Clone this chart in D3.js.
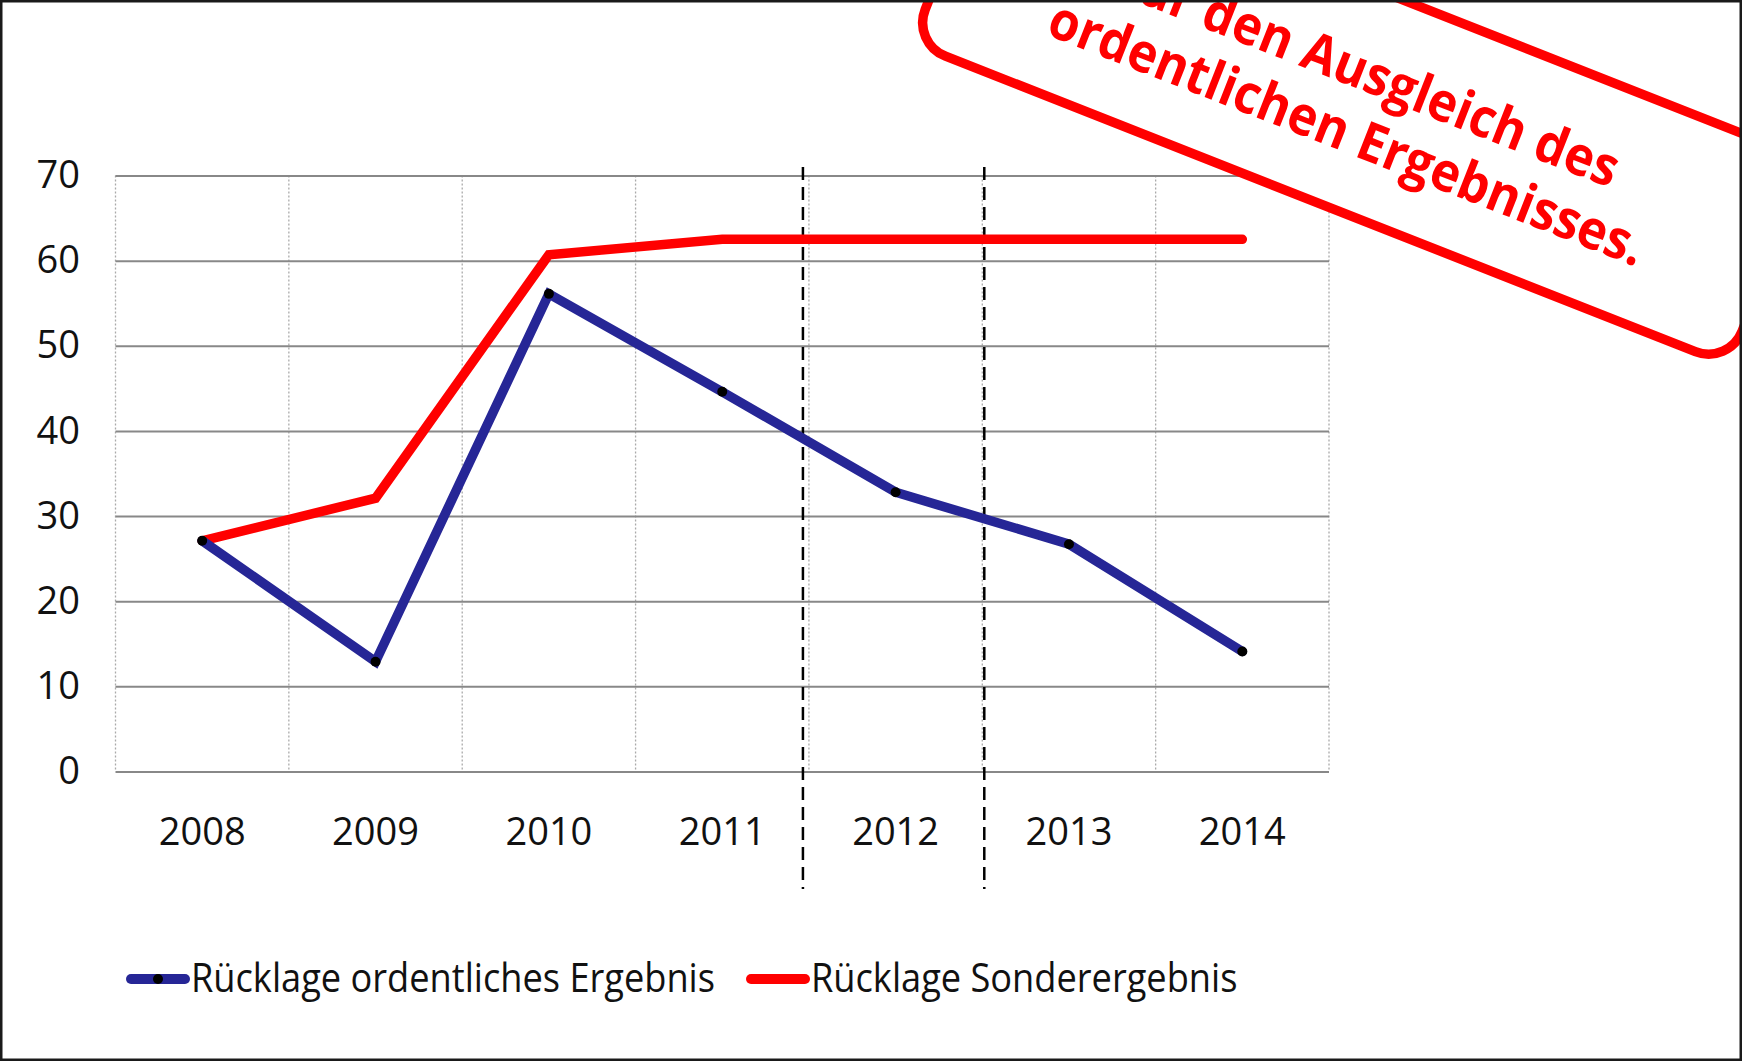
<!DOCTYPE html>
<html>
<head>
<meta charset="utf-8">
<script src="https://cdn.jsdelivr.net/npm/d3@7"></script>
<style>
  body { margin: 0; background: #fff; }
  svg { display: block; font-family: "Open Sans", "Noto Sans", sans-serif; }
</style>
</head>
<body>
<div id="chart"></div>
<script>
// data
let years = ['2008', '2009', '2010', '2011', '2012', '2013', '2014'];
let ordentlich = [27.1, 12.9, 56.1, 44.6, 32.8, 26.7, 14.1];
let sonder = [27.1, 32.1, 60.7, 62.5, 62.5, 62.5, 62.5];
let yTicks = [0, 10, 20, 30, 40, 50, 60, 70];
let splitYears = ['2012', '2013'];
let seriesNames = ['Rücklage ordentliches Ergebnis', 'Rücklage Sonderergebnis'];
let noteLines = ['für den Ausgleich des', 'ordentlichen Ergebnisses.'];

// svg size
let svgWidth = 1742,
    svgHeight = 1061;

// plot area
let plot = { left: 115.5, right: 1329, top: 175.5, bottom: 771.5 };

let svg = d3.select('#chart')
    .append('svg')
    .attr('width', svgWidth)
    .attr('height', svgHeight);

// scales
let xScale = d3.scaleBand()
    .domain(years)
    .range([plot.left, plot.right])
    .padding(0);

let yScale = d3.scaleLinear()
    .domain([0, 70])
    .range([plot.bottom, plot.top]);

let xMid = d => xScale(d) + xScale.bandwidth() / 2;

// dotted vertical grid at category borders
let borders = years.map(d => xScale(d)).concat([plot.right]);
svg.append('g')
    .selectAll('line')
    .data(borders)
    .join('line')
    .attr('x1', d => d)
    .attr('x2', d => d)
    .attr('y1', plot.top)
    .attr('y2', plot.bottom)
    .attr('stroke', '#aaa')
    .attr('stroke-width', 1.3)
    .attr('stroke-dasharray', '2,2');

// left axis with horizontal grid
let leftAxis = d3.axisLeft(yScale)
    .tickValues(yTicks)
    .tickSize(-(plot.right - plot.left))
    .tickPadding(35.5);

let yAxisG = svg.append('g')
    .attr('transform', `translate(${plot.left},0)`)
    .call(leftAxis);
yAxisG.select('.domain').remove();
yAxisG.selectAll('.tick line')
    .attr('stroke', '#888')
    .attr('stroke-width', 2);
yAxisG.selectAll('.tick text')
    .attr('fill', '#111')
    .style('font-size', '38px')
    .style('font-family', '"Open Sans", sans-serif');

// bottom axis, labels only
let bottomAxis = d3.axisBottom(xScale)
    .tickSize(0)
    .tickPadding(0);
let xAxisG = svg.append('g')
    .attr('transform', `translate(0,${plot.bottom})`)
    .call(bottomAxis);
xAxisG.select('.domain').remove();
xAxisG.selectAll('.tick text')
    .attr('y', 73.5)
    .attr('dy', 0)
    .attr('fill', '#111')
    .style('font-size', '38px')
    .style('font-family', '"Open Sans", sans-serif');

// dashed separators (sit a little off the band borders)
let splitShift = [-6, 2];
svg.append('g')
    .selectAll('line')
    .data(splitYears)
    .join('line')
    .attr('x1', (d, i) => xScale(d) + splitShift[i])
    .attr('x2', (d, i) => xScale(d) + splitShift[i])
    .attr('y1', 167)
    .attr('y2', 889)
    .attr('stroke', '#000')
    .attr('stroke-width', 2.5)
    .attr('stroke-dasharray', '13,7');

// lines
let lineGen = d3.line()
    .x((d, i) => xMid(years[i]))
    .y(d => yScale(d));

svg.append('path')
    .datum(sonder)
    .attr('d', lineGen)
    .attr('fill', 'none')
    .attr('stroke', '#ff0000')
    .attr('stroke-width', 9.5)
    .attr('stroke-linecap', 'round')
    .attr('stroke-linejoin', 'miter');

svg.append('path')
    .datum(ordentlich)
    .attr('d', lineGen)
    .attr('fill', 'none')
    .attr('stroke', '#262696')
    .attr('stroke-width', 9.5)
    .attr('stroke-linecap', 'round')
    .attr('stroke-linejoin', 'miter');

svg.append('g')
    .selectAll('circle')
    .data(ordentlich)
    .join('circle')
    .attr('cx', (d, i) => xMid(years[i]))
    .attr('cy', d => yScale(d))
    .attr('r', 5)
    .attr('fill', '#000');

// callout box (rotated)
let note = svg.append('g')
    .attr('transform', 'translate(912,43) rotate(21.5)');
note.append('rect')
    .attr('x', 0)
    .attr('y', -220)
    .attr('width', 878)
    .attr('height', 220)
    .attr('rx', 36)
    .attr('fill', '#fff')
    .attr('stroke', '#ff0000')
    .attr('stroke-width', 9.5);

let noteText = note.selectAll('text.note')
    .data(noteLines)
    .join('text')
    .attr('class', 'note')
    .attr('x', 438)
    .attr('y', (d, i) => -121 + i * 64)
    .attr('text-anchor', 'middle')
    .attr('fill', '#ff0000')
    .style('font-size', '54px')
    .style('font-weight', 'bold');
noteText.text(d => d);
// squeeze to match the condensed look
let noteRatio = 636 / noteText.nodes()[1].getComputedTextLength();
noteText.each(function() {
    let w = this.getComputedTextLength();
    d3.select(this).attr('textLength', w * noteRatio).attr('lengthAdjust', 'spacingAndGlyphs');
});

// legend
let legendColors = ['#262696', '#ff0000'];
let legendX = [131, 751];
let legend = svg.append('g');
legend.selectAll('line')
    .data(seriesNames)
    .join('line')
    .attr('x1', (d, i) => legendX[i])
    .attr('x2', (d, i) => legendX[i] + 54)
    .attr('y1', 979)
    .attr('y2', 979)
    .attr('stroke', (d, i) => legendColors[i])
    .attr('stroke-width', 10)
    .attr('stroke-linecap', 'round');
legend.append('circle')
    .attr('cx', legendX[0] + 27)
    .attr('cy', 979)
    .attr('r', 5)
    .attr('fill', '#000');
let legendText = legend.selectAll('text')
    .data(seriesNames)
    .join('text')
    .attr('x', (d, i) => legendX[i] + 60)
    .attr('y', 992)
    .attr('fill', '#111')
    .style('font-size', '40px')
    .text(d => d);
let legendRatio = 524 / legendText.nodes()[0].getComputedTextLength();
legendText.each(function() {
    let w = this.getComputedTextLength();
    d3.select(this).attr('textLength', w * legendRatio).attr('lengthAdjust', 'spacingAndGlyphs');
});

// outer frame
svg.append('rect')
    .attr('x', 1.25)
    .attr('y', 1.25)
    .attr('width', svgWidth - 2.5)
    .attr('height', svgHeight - 2.5)
    .attr('fill', 'none')
    .attr('stroke', '#1a1a1a')
    .attr('stroke-width', 2.5);
</script>
</body>
</html>
